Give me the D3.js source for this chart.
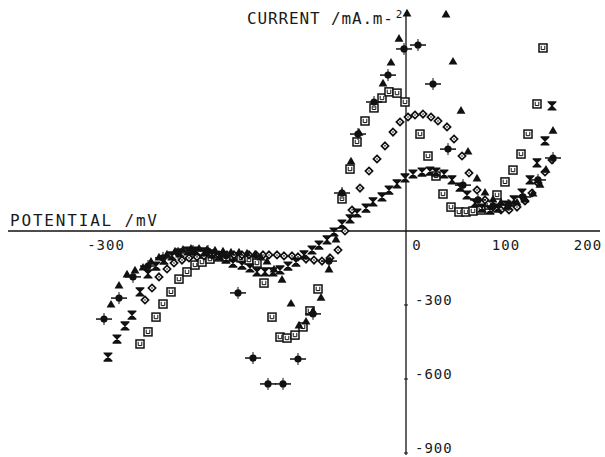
<!DOCTYPE html>
<html>
<head>
<meta charset="utf-8">
<script src="https://cdn.jsdelivr.net/npm/d3@7"></script>
<style>
  body { margin: 0; background: #fff; }
  text { font-family: "DejaVu Sans Mono", "Liberation Mono", monospace; fill: #1a1a1a; }
</style>
</head>
<body>
<script>
// potential (mV) , current (mA.m-2)
const squares = [
  [-266,-458],[-258,-409],[-250,-349],[-243,-296],[-235,-247],[-227,-195],[-219,-166],[-211,-138],
  [-204,-126],[-196,-114],[-188,-105],[-180,-105],[-172,-105],[-165,-109],[-157,-118],[-149,-130],
  [-142,-211],[-134,-349],[-126,-430],[-119,-434],[-111,-422],[-103,-389],[-96,-324],[-88,-235],
  [-64,130],[-56,251],[-49,361],[-41,446],[-32,499],[-24,539],[-17,564],[-9,559],[-1,523],
  [14,393],[22,304],[30,223],[37,150],[45,97],[53,77],[60,77],[67,81],[75,85],[83,105],
  [91,146],[99,199],[107,247],[115,312],[122,393],[131,515],[137,742]
];
const triangles = [
  [-295,-300],[-287,-223],[-279,-178],[-271,-162],[-263,-150],[-255,-126],[-247,-109],[-239,-97],
  [-231,-85],[-223,-77],[-215,-73],[-207,-73],[-199,-77],[-191,-81],[-183,-85],[-175,-89],
  [-167,-89],[-159,-93],[-151,-97],[-145,-109],[-139,-125],[-132,-158],[-124,-199],[-115,-296],
  [-107,-385],[-100,-369],[-93,-328],[-85,-272],[-77,-158],[-70,-36],[-64,154],[-55,280],
  [-47,397],[-23,596],[-15,681],[-7,778],[1,880],[40,876],[47,685],[55,486],[62,320],[71,211],
  [79,154],[87,126],[95,114],[103,109],[111,114],[119,126],[127,150],[134,186],[140,247],[147,405]
];
const crossDots = [
  [-302,-357],[-287,-272],[-273,-186],[-258,-142],[-243,-109],[-228,-89],[-213,-81],[-198,-81],
  [-183,-93],[-168,-251],[-153,-515],[-138,-620],[-123,-620],[-108,-519],[-93,-336],[-77,-122],
  [-64,154],[-48,393],[-32,523],[-18,632],[-2,738],[12,754],[27,596],[42,332],[57,186],[72,126],
  [87,101],[102,105],[117,138],[132,207],[147,296]
];
const diamonds = [
  [-261,-280],[-254,-231],[-247,-186],[-239,-154],[-232,-130],[-224,-118],[-217,-109],[-209,-105],
  [-202,-101],[-194,-97],[-187,-97],[-179,-97],[-172,-97],[-164,-97],[-157,-97],[-150,-97],
  [-143,-97],[-137,-97],[-129,-97],[-122,-101],[-114,-101],[-108,-105],[-100,-114],[-92,-118],
  [-84,-122],[-76,-109],[-68,-77],[-61,0],[-54,85],[-46,174],[-37,243],[-29,292],[-21,345],
  [-13,401],[-6,442],[2,462],[9,470],[17,474],[25,462],[32,446],[41,422],[48,373],[56,304],
  [63,235],[71,166],[79,126],[87,97],[95,85],[103,85],[111,97],[119,122],[126,154],[132,195],
  [139,239],[146,288]
];
const hourglasses = [
  [-298,-511],[-289,-438],[-281,-385],[-274,-341],[-266,-247],[-258,-174],[-250,-142],[-242,-118],
  [-234,-101],[-226,-89],[-218,-81],[-210,-81],[-202,-85],[-194,-93],[-187,-101],[-180,-114],
  [-173,-130],[-164,-138],[-156,-150],[-149,-166],[-141,-166],[-133,-166],[-126,-158],[-118,-142],
  [-110,-126],[-102,-97],[-94,-77],[-87,-57],[-79,-36],[-72,-4],[-64,28],[-56,49],[-49,73],
  [-40,93],[-33,118],[-24,138],[-17,166],[-9,191],[-1,215],[7,231],[16,239],[24,243],[30,239],
  [38,231],[46,207],[54,178],[61,146],[69,114],[76,93],[84,85],[92,93],[101,105],[108,126],
  [116,154],[124,207],[131,276],[139,365],[146,507]
];
const xTicks = [-300, 0, 100, 200];
const yTicks = [-300, -600, -900];

const width = 605, height = 457;

const svg = d3.select("body").append("svg")
    .attr("width", width)
    .attr("height", height);

const x = d3.scaleLinear().domain([-300, 200]).range([106, 606]);
const y = d3.scaleLinear().domain([-900, 900]).range([453, 9]);

// axes
svg.append("line")
    .attr("x1", 8).attr("x2", 600)
    .attr("y1", y(0)).attr("y2", y(0))
    .attr("stroke", "#111").attr("stroke-width", 1.3);
svg.append("line")
    .attr("x1", x(0)).attr("x2", x(0))
    .attr("y1", 15).attr("y2", 455)
    .attr("stroke", "#111").attr("stroke-width", 1.3);

svg.selectAll(".xlab")
    .data(xTicks)
    .enter().append("text")
    .attr("class", "xlab")
    .attr("x", d => d === 0 ? x(d) + 11 : Math.min(x(d), width - 17))
    .attr("y", y(0) + 19)
    .attr("text-anchor", "middle")
    .attr("font-size", 14)
    .attr("letter-spacing", 1)
    .text(d => d);

svg.selectAll(".ytick")
    .data(yTicks)
    .enter().append("line")
    .attr("x1", x(0) - 2).attr("x2", x(0) + 2)
    .attr("y1", d => y(d)).attr("y2", d => y(d))
    .attr("stroke", "#111");

svg.selectAll(".ylab")
    .data(yTicks)
    .enter().append("text")
    .attr("class", "ylab")
    .attr("x", x(0) + 9)
    .attr("y", d => y(d))
    .attr("font-size", 14)
    .attr("letter-spacing", 1)
    .text(d => d);

svg.append("text")
    .attr("x", 10).attr("y", 226)
    .attr("font-size", 16)
    .attr("textLength", 147)
    .text("POTENTIAL /mV");

const title = svg.append("text")
    .attr("x", 247).attr("y", 24)
    .attr("font-size", 16);
title.append("tspan").attr("textLength", 146).text("CURRENT /mA.m-");
title.append("tspan").attr("dy", -6).attr("dx", 2).attr("font-size", 11).text("2");

// markers
function place(sel, data) {
    return sel.selectAll(null)
        .data(data)
        .enter().append("g")
        .attr("transform", d => `translate(${x(d[0])},${y(d[1])})`);
}

const sq = place(svg.append("g"), squares);
sq.append("rect")
    .attr("x", -4).attr("y", -4).attr("width", 8).attr("height", 8)
    .attr("fill", "#fff").attr("stroke", "#111").attr("stroke-width", 1.5);
sq.append("path")
    .attr("d", "M-1.8,-2.2V1.6H1.8V-2.2")
    .attr("fill", "none").attr("stroke", "#111").attr("stroke-width", 1);

const dm = place(svg.append("g"), diamonds);
dm.append("path")
    .attr("d", "M0,-3.6L3.6,0L0,3.6L-3.6,0Z")
    .attr("fill", "#fff").attr("stroke", "#111").attr("stroke-width", 1.7);
dm.append("circle").attr("r", 0.8).attr("fill", "#111");

const hg = place(svg.append("g"), hourglasses);
hg.append("path")
    .attr("d", "M-4,-4H4L-4,4H4Z")
    .attr("fill", "#111").attr("stroke", "#111").attr("stroke-width", 1.2)
    .attr("stroke-linejoin", "round");

const tr = place(svg.append("g"), triangles);
tr.append("path")
    .attr("d", d3.symbol(d3.symbolTriangle, 34))
    .attr("fill", "#111");

const cd = place(svg.append("g"), crossDots);
cd.append("line").attr("x1", -8).attr("x2", 8)
    .attr("stroke", "#111").attr("stroke-width", 1.5);
cd.append("line").attr("y1", -6).attr("y2", 6)
    .attr("stroke", "#111").attr("stroke-width", 1);
cd.append("circle").attr("r", 3.6).attr("fill", "#111");
</script>
</body>
</html>
